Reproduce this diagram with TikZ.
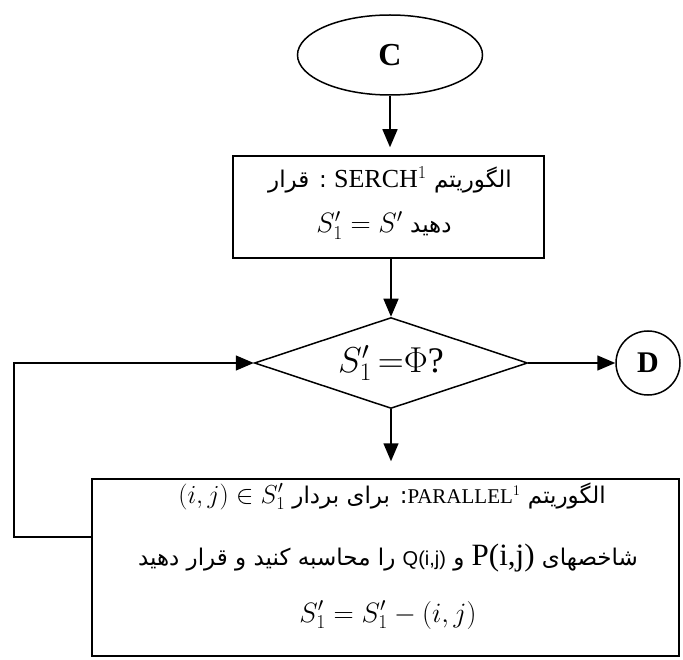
\RequirePackage{fix-cm}
\documentclass[tikz,border=0pt]{standalone}
\usepackage{fontspec}
\setmainfont{Liberation Serif}
\newfontfamily\pfontfam[Script=Arabic]{DejaVu Sans}
\newfontfamily\qsans{Liberation Sans}
\TeXXeTstate=1
\usetikzlibrary{shapes.geometric,arrows.meta}
\newcommand\pfont{\pfontfam\fontsize{23}{26}\selectfont}
\tikzset{
  arr/.style={-{Triangle[length=18pt,width=15pt]}},
  frame/.style={draw, rectangle, inner sep=0pt},
  txt/.style={anchor=base, inner sep=0pt},
}
\begin{document}
\begin{tikzpicture}[x=1pt,y=-1pt,line width=1.5pt]
\useasboundingbox (0,0) rectangle (683,660);
% start
\node[draw, ellipse, minimum width=185pt, minimum height=80pt, inner sep=0pt,
      font=\fontsize{32}{36}\selectfont\bfseries] (C) at (390,55) {C};
% box 1
\node[frame, minimum width=311pt, minimum height=102pt] (b1) at (388.5,207) {};
\node[txt] (b1l1) at (390,188) {\pfont\beginR الگوریتم \beginL{\rmfamily\fontsize{26}{28}\selectfont SERCH$^{1}$}\endL{} : قرار\endR};
\node[txt] (b1l2) at (384,233) {\pfont\beginR دهید \beginL{\fontsize{28}{30}\selectfont$S_1' = S'$}\endL\endR};
% decision
\node[draw, diamond, minimum width=273pt, minimum height=91pt, inner sep=0pt, aspect=3,
      font=\fontsize{36}{40}\selectfont] (dia) at (391,363) {$S_1'\,{=}\Phi$?};
% connector D
\node[draw, circle, minimum size=64pt, inner sep=0pt,
      font=\fontsize{30}{34}\selectfont\bfseries] (D) at (648,363) {D};
% box 2
\node[frame, minimum width=587pt, minimum height=177pt] (b2) at (385.5,567.5) {};
\node[txt] (b2l1) at (392,503) {\pfont\beginR الگوریتم \beginL{\rmfamily\fontsize{21}{23}\selectfont PARALLEL$^{1}$}\endL: برای بردار \beginL{\fontsize{26}{28}\selectfont$(i,j)\in S_1'$}\endL\endR};
\node[txt] (b2l2) at (388,565) {\pfont\beginR شاخصهای \beginL{\rmfamily\fontsize{31}{33}\selectfont P(i,j)}\endL{} و \beginL{\qsans\fontsize{20}{22}\selectfont Q(i,j)}\endL{} را محاسبه کنید و قرار دهید\endR};
\node[txt] (b2l3) at (388,622) {\fontsize{28}{30}\selectfont$S_1' = S_1' - (i,j)$};
% connectors
\draw[arr, shorten >=8pt] (C.south) -- (C.south |- b1.north);
\draw[arr] (b1.south -| dia.north) -- (dia.north);
\draw[arr] (dia.east) -- (D.west);
\draw[arr, shorten >=17pt] (dia.south) -- (dia.south |- b2.north);
\coordinate (lp) at (14,537);
\draw[arr] (b2.west |- lp) -- (lp) |- (dia.west);
\end{tikzpicture}
\end{document}
